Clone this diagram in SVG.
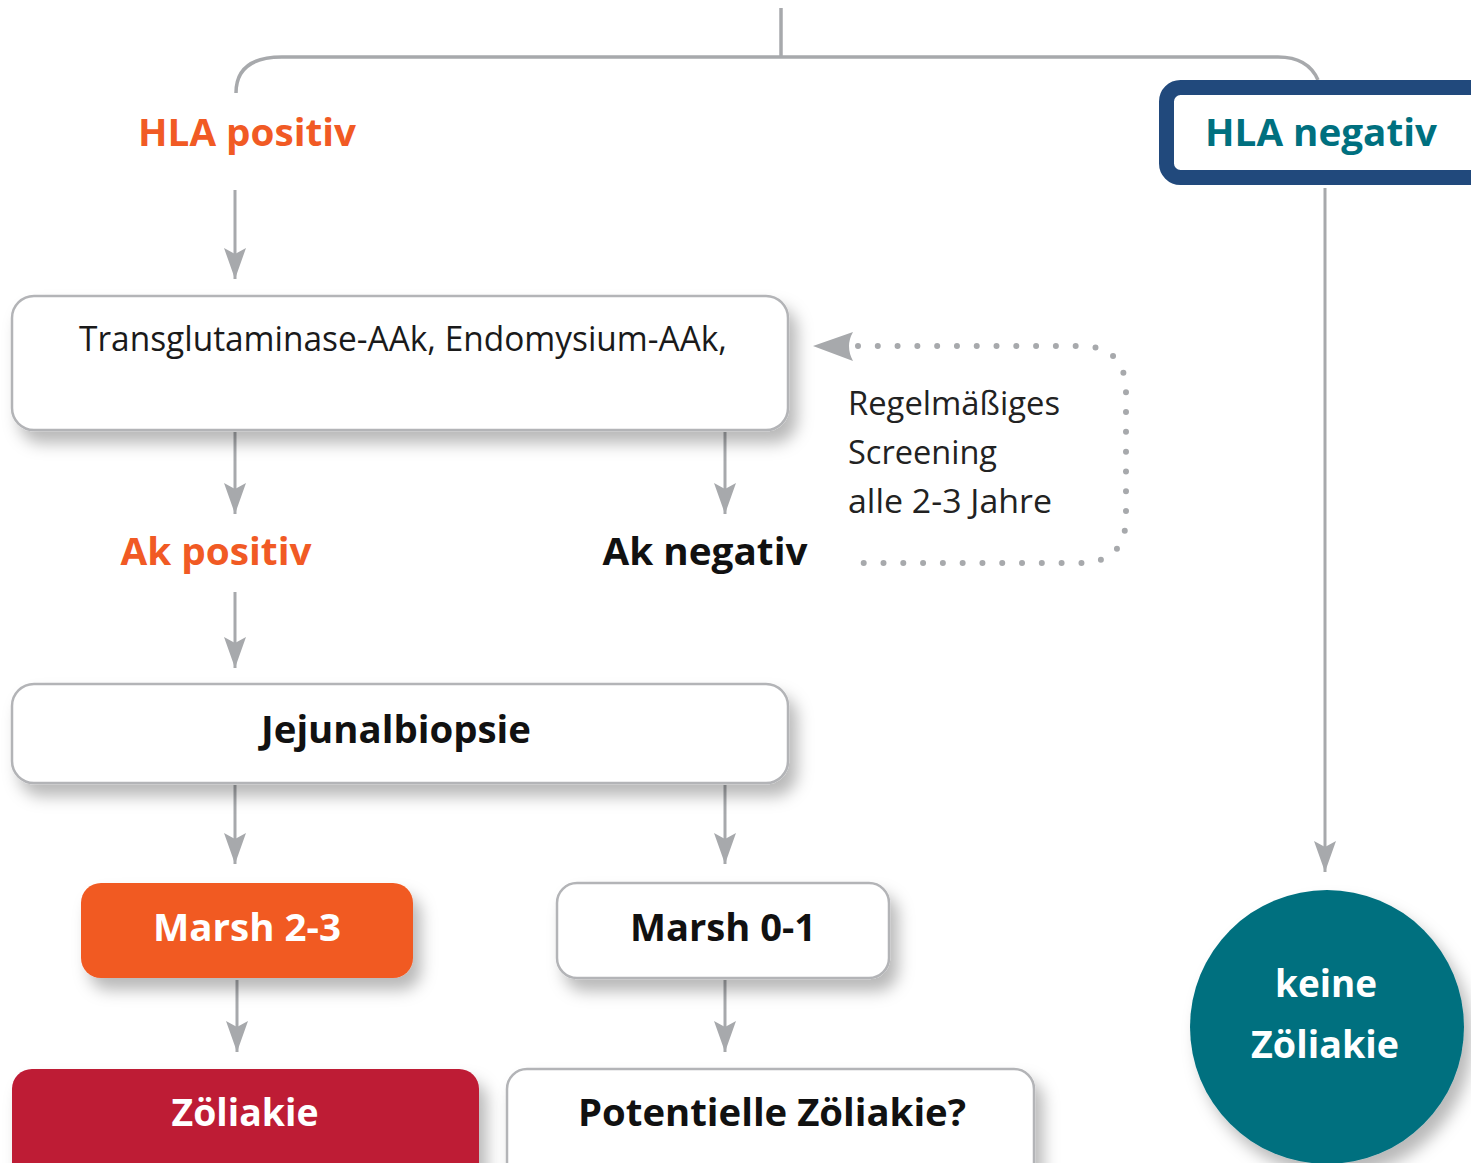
<svg xmlns="http://www.w3.org/2000/svg" width="1471" height="1163" viewBox="0 0 1471 1163">
<defs>
<filter id="sh" x="-10%" y="-20%" width="130%" height="160%">
<feDropShadow dx="8" dy="12" stdDeviation="8" flood-color="#000" flood-opacity="0.28"/>
</filter>
<marker id="ah" markerUnits="userSpaceOnUse" viewBox="0 0 31 22" refX="31" refY="11" markerWidth="31" markerHeight="22" orient="auto">
<path d="M0,0 L31,11 L0,22 L6,11 Z" fill="#A7A9AC"/>
</marker>
<style>
.ln{stroke:#A7A9AC;stroke-width:3.5;fill:none}
.ar{stroke:#A7A9AC;stroke-width:3;fill:none;marker-end:url(#ah)}
.box{fill:#fff;stroke:#B3B4B7;stroke-width:2.5;filter:url(#sh)}
.t{font-family:"Open Sans","Noto Sans","Liberation Sans",sans-serif}
.b{font-weight:bold}
.n{font-weight:normal}
</style>
</defs>

<g id="connectors">
<path class="ln" d="M781,8 V57"/>
<path class="ln" d="M236,93 Q236,57 282,57 H1278 Q1308,57 1318,80"/>
<path class="ar" d="M235,190 V279"/>
<path class="ar" d="M235,432 V514"/>
<path class="ar" d="M725,432 V514"/>
<path class="ar" d="M235,592 V668"/>
<path class="ar" d="M235,785 V864"/>
<path class="ar" d="M725,785 V864"/>
<path class="ar" d="M237,980 V1052"/>
<path class="ar" d="M725,980 V1052"/>
<path class="ar" d="M1325,188 V872"/>
<path d="M858,346 H1080 Q1126,346 1126,392 V517 Q1126,563 1080,563 H863" pathLength="36" fill="none" stroke="#A7A9AC" stroke-width="6" stroke-linecap="round" stroke-dasharray="0 0.999"/>
<path d="M813,346 L853,332 Q845,346 853,361 Z" fill="#A7A9AC"/>
</g>

<g id="hla-positiv">
<text class="t b" x="247" y="146" text-anchor="middle" font-size="37" fill="#F15A24" textLength="218" lengthAdjust="spacingAndGlyphs">HLA positiv</text>
</g>

<g id="hla-negativ">
<rect x="1166.5" y="87.5" width="330" height="90" rx="14" fill="#fff" stroke="#21497C" stroke-width="15"/>
<text class="t b" x="1321" y="146" text-anchor="middle" font-size="37" fill="#00707F" textLength="232" lengthAdjust="spacingAndGlyphs">HLA negativ</text>
</g>

<g id="antikoerper">
<rect class="box" x="12" y="296" width="776" height="134" rx="22"/>
<text class="t n" x="403" y="351" text-anchor="middle" font-size="34" fill="#1a1a1a" textLength="648" lengthAdjust="spacingAndGlyphs">Transglutaminase-AAk, Endomysium-AAk,</text>
</g>

<g id="screening">
<text class="t n" font-size="32" fill="#222">
<tspan x="848" y="415" textLength="212" lengthAdjust="spacingAndGlyphs">Regelmäßiges</tspan>
<tspan x="848" y="464" textLength="149" lengthAdjust="spacingAndGlyphs">Screening</tspan>
<tspan x="848" y="513" textLength="204" lengthAdjust="spacingAndGlyphs">alle 2-3 Jahre</tspan>
</text>
</g>

<g id="ak-positiv">
<text class="t b" x="216" y="565" text-anchor="middle" font-size="37" fill="#F15A24" textLength="191" lengthAdjust="spacingAndGlyphs">Ak positiv</text>
</g>

<g id="ak-negativ">
<text class="t b" x="705" y="565" text-anchor="middle" font-size="37" fill="#111" textLength="205" lengthAdjust="spacingAndGlyphs">Ak negativ</text>
</g>

<g id="jejunalbiopsie">
<rect class="box" x="12" y="684" width="776" height="99" rx="22"/>
<text class="t b" x="396" y="743" text-anchor="middle" font-size="37" fill="#111" textLength="270" lengthAdjust="spacingAndGlyphs">Jejunalbiopsie</text>
</g>

<g id="marsh23">
<rect x="81" y="883" width="332" height="95" rx="20" fill="#F15A24" filter="url(#sh)"/>
<text class="t b" x="247" y="941" text-anchor="middle" font-size="37" fill="#fff" textLength="188" lengthAdjust="spacingAndGlyphs">Marsh 2-3</text>
</g>

<g id="marsh01">
<rect class="box" x="557" y="883" width="332" height="95" rx="20"/>
<text class="t b" x="723" y="941" text-anchor="middle" font-size="37" fill="#111" textLength="186" lengthAdjust="spacingAndGlyphs">Marsh 0-1</text>
</g>

<g id="zoeliakie">
<rect x="12" y="1069" width="467" height="120" rx="20" fill="#BE1A34" filter="url(#sh)"/>
<text class="t b" x="245" y="1126" text-anchor="middle" font-size="37" fill="#fff" textLength="147" lengthAdjust="spacingAndGlyphs">Zöliakie</text>
</g>

<g id="potentielle">
<rect class="box" x="507" y="1069" width="527" height="120" rx="20"/>
<text class="t b" x="772" y="1126" text-anchor="middle" font-size="37" fill="#111" textLength="388" lengthAdjust="spacingAndGlyphs">Potentielle Zöliakie?</text>
</g>

<g id="keine-zoeliakie">
<circle cx="1327" cy="1027" r="137" fill="#00707F" filter="url(#sh)"/>
<text class="t b" x="1326" y="997" text-anchor="middle" font-size="37" fill="#fff" textLength="102" lengthAdjust="spacingAndGlyphs">keine</text>
<text class="t b" x="1325" y="1058" text-anchor="middle" font-size="37" fill="#fff" textLength="148" lengthAdjust="spacingAndGlyphs">Zöliakie</text>
</g>
</svg>
